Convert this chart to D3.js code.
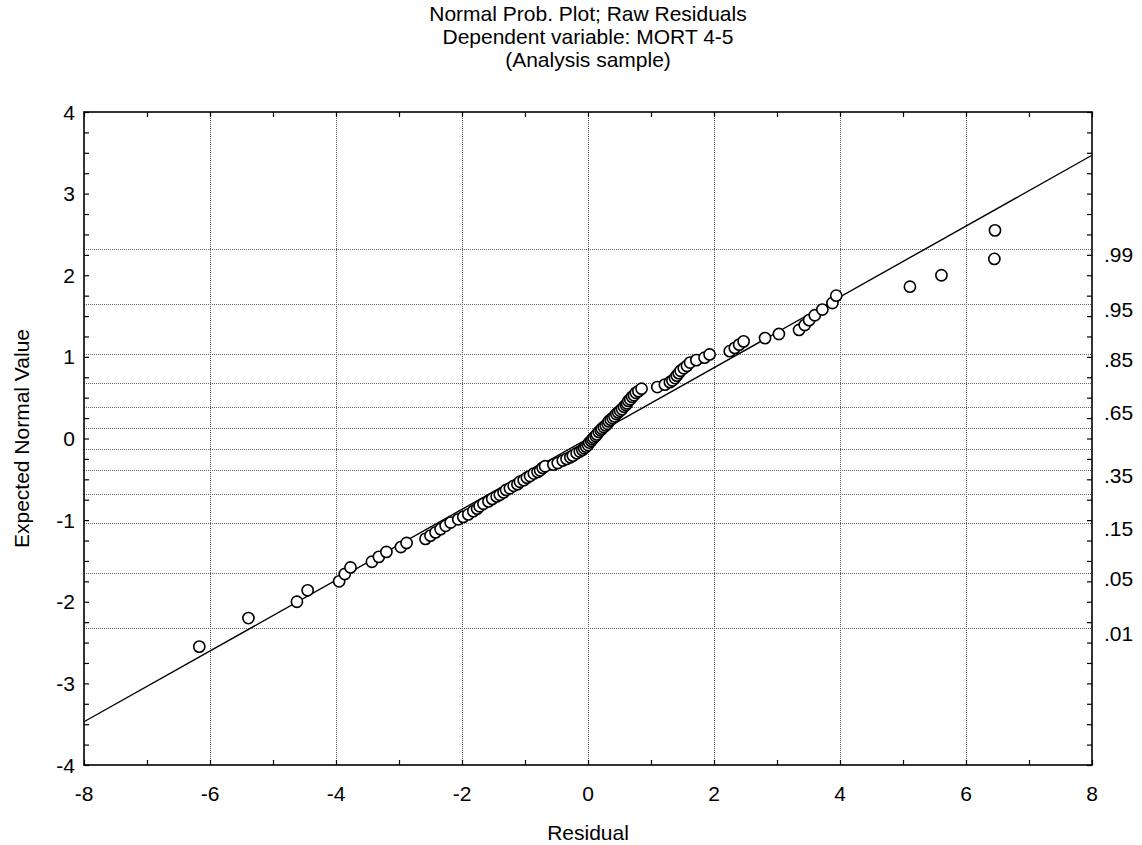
<!DOCTYPE html>
<html>
<head>
<meta charset="utf-8">
<script src="https://cdn.jsdelivr.net/npm/d3@7"></script>
<style>
  body { margin: 0; background: #fff; }
  svg text { font-family: "Liberation Sans", Arial, sans-serif; fill: #000; }
</style>
</head>
<body>
<div id="chart"></div>
<script>
// residuals (sorted)
const residuals = [
  -6.17, -5.39, -4.62, -4.45, -3.95, -3.86, -3.77, -3.43, -3.32, -3.20,
  -2.97, -2.88, -2.58, -2.50, -2.42, -2.34, -2.26, -2.18, -2.06, -1.98,
  -1.90, -1.82, -1.76, -1.72, -1.66, -1.58, -1.52, -1.45, -1.40, -1.34,
  -1.30, -1.24, -1.18, -1.12, -1.08, -1.02, -0.97, -0.92, -0.86, -0.80,
  -0.76, -0.72, -0.68, -0.55, -0.48, -0.40, -0.34, -0.28, -0.24, -0.18,
  -0.13, -0.09, -0.06, -0.03, 0.00, 0.02, 0.05, 0.07, 0.09, 0.12,
  0.14, 0.17, 0.20, 0.22, 0.25, 0.28, 0.31, 0.33, 0.36, 0.39,
  0.42, 0.45, 0.48, 0.51, 0.54, 0.57, 0.60, 0.62, 0.64, 0.67,
  0.70, 0.73, 0.76, 0.80, 0.85, 1.10, 1.22, 1.30, 1.34, 1.38,
  1.41, 1.44, 1.47, 1.52, 1.57, 1.62, 1.72, 1.85, 1.93, 2.25,
  2.33, 2.40, 2.47, 2.81, 3.03, 3.35, 3.44, 3.51, 3.60, 3.72,
  3.88, 3.94, 5.11, 5.61, 6.45, 6.46
];

// expected normal values, same order
const expectedNormal = [
  -2.55, -2.20, -2.00, -1.86, -1.75, -1.66, -1.58, -1.51, -1.45, -1.39,
  -1.33, -1.28, -1.23, -1.19, -1.15, -1.11, -1.07, -1.03, -0.99, -0.96,
  -0.93, -0.89, -0.86, -0.83, -0.80, -0.77, -0.74, -0.71, -0.69, -0.66,
  -0.63, -0.61, -0.58, -0.56, -0.53, -0.51, -0.48, -0.46, -0.43, -0.41,
  -0.39, -0.36, -0.34, -0.32, -0.30, -0.27, -0.25, -0.23, -0.21, -0.18,
  -0.16, -0.14, -0.12, -0.10, -0.08, -0.05, -0.03, -0.01, 0.01, 0.03,
  0.05, 0.08, 0.10, 0.12, 0.14, 0.16, 0.18, 0.21, 0.23, 0.25,
  0.27, 0.30, 0.32, 0.34, 0.36, 0.39, 0.41, 0.43, 0.46, 0.48,
  0.51, 0.53, 0.56, 0.58, 0.61, 0.63, 0.66, 0.69, 0.71, 0.74,
  0.77, 0.80, 0.83, 0.86, 0.89, 0.93, 0.96, 0.99, 1.03, 1.07,
  1.11, 1.15, 1.19, 1.23, 1.28, 1.33, 1.39, 1.45, 1.51, 1.58,
  1.66, 1.75, 1.86, 2.00, 2.20, 2.55
];

// reference line endpoints
const lineX = [-8, 8];
const lineY = [-3.47, 3.47];

// probability grid (z values) and the labelled ones
const probLevels = [".01", ".05", ".15", ".25", ".35", ".45", ".55", ".65", ".75", ".85", ".95", ".99"];
const probZ = [-2.326, -1.645, -1.036, -0.674, -0.385, -0.126, 0.126, 0.385, 0.674, 1.036, 1.645, 2.326];
const probLabelled = [".01", ".05", ".15", ".35", ".65", ".85", ".95", ".99"];

const xTicks = [-8, -6, -4, -2, 0, 2, 4, 6, 8];
const yTicks = [-4, -3, -2, -1, 0, 1, 2, 3, 4];

const titleLines = ["Normal Prob. Plot; Raw Residuals", "Dependent variable: MORT 4-5", "(Analysis sample)"];

const width = 1142, height = 845;
const margin = {top: 112, right: 50, bottom: 80, left: 84};

const svg = d3.select("#chart").append("svg")
    .attr("width", width)
    .attr("height", height);

const x = d3.scaleLinear().domain([-8, 8]).range([margin.left, width - margin.right]);
const y = d3.scaleLinear().domain([-4, 4]).range([height - margin.bottom, margin.top]);

// grid: vertical at labelled x ticks (inside)
svg.append("g")
    .selectAll("line")
    .data(xTicks.slice(1, -1))
    .join("line")
    .attr("x1", d => Math.round(x(d)) + 0.5).attr("x2", d => Math.round(x(d)) + 0.5)
    .attr("y1", y(4)).attr("y2", y(-4))
    .attr("stroke", "#555")
    .attr("stroke-width", 1)
    .attr("stroke-dasharray", "1,1");

// grid: horizontal at probability levels
svg.append("g")
    .selectAll("line")
    .data(probZ)
    .join("line")
    .attr("x1", x(-8)).attr("x2", x(8))
    .attr("y1", d => Math.round(y(d)) + 0.5).attr("y2", d => Math.round(y(d)) + 0.5)
    .attr("stroke", "#666")
    .attr("stroke-width", 1)
    .attr("stroke-dasharray", "1,1");

// axes with inward ticks
const fontSize = "21px";
const xAxisBottom = d3.axisBottom(x).tickValues(d3.range(-8, 9, 1)).tickSize(-5).tickFormat("");
const xAxisTop = d3.axisTop(x).tickValues(d3.range(-8, 9, 1)).tickSize(-5).tickFormat("");
const yAxisLeft = d3.axisLeft(y).tickValues(d3.range(-4, 4.01, 0.25)).tickSize(-5).tickFormat("");
const yAxisRight = d3.axisRight(y).tickValues(d3.range(-4, 4.01, 0.25)).tickSize(-5).tickFormat("");

svg.append("g").attr("transform", `translate(0,${y(-4)})`).call(xAxisBottom);
svg.append("g").attr("transform", `translate(0,${y(4)})`).call(xAxisTop);
svg.append("g").attr("transform", `translate(${x(-8)},0)`).call(yAxisLeft);
svg.append("g").attr("transform", `translate(${x(8)},0)`).call(yAxisRight);
svg.selectAll(".domain").remove();
svg.selectAll(".tick line").attr("stroke", "#000").attr("stroke-width", 1.2);

// frame
svg.append("rect")
    .attr("x", x(-8)).attr("y", y(4))
    .attr("width", x(8) - x(-8)).attr("height", y(-4) - y(4))
    .attr("fill", "none")
    .attr("stroke", "#000")
    .attr("stroke-width", 1.6);

// tick labels
svg.append("g")
    .selectAll("text")
    .data(xTicks)
    .join("text")
    .attr("x", d => x(d))
    .attr("y", y(-4) + 36)
    .attr("text-anchor", "middle")
    .attr("font-size", fontSize)
    .text(d => d);

svg.append("g")
    .selectAll("text")
    .data(yTicks)
    .join("text")
    .attr("x", x(-8) - 9)
    .attr("y", d => y(d) + 7.5)
    .attr("text-anchor", "end")
    .attr("font-size", fontSize)
    .text(d => d);

svg.append("g")
    .selectAll("text")
    .data(probLabelled)
    .join("text")
    .attr("x", x(8) + 12)
    .attr("y", d => y(probZ[probLevels.indexOf(d)]) + 13)
    .attr("font-size", fontSize)
    .text(d => d);

// reference line
svg.append("line")
    .attr("x1", x(lineX[0])).attr("y1", y(lineY[0]))
    .attr("x2", x(lineX[1])).attr("y2", y(lineY[1]))
    .attr("stroke", "#000")
    .attr("stroke-width", 1.4);

// points
svg.append("g")
    .selectAll("circle")
    .data(residuals.map((r, i) => ({r, z: expectedNormal[i]})))
    .join("circle")
    .attr("cx", d => x(d.r))
    .attr("cy", d => y(d.z))
    .attr("r", 5.6)
    .attr("fill", "#fff")
    .attr("stroke", "#000")
    .attr("stroke-width", 1.6);

// titles
svg.append("g")
    .selectAll("text")
    .data(titleLines)
    .join("text")
    .attr("x", (x(-8) + x(8)) / 2)
    .attr("y", (d, i) => 21 + i * 23)
    .attr("text-anchor", "middle")
    .attr("font-size", fontSize)
    .text(d => d);

svg.append("text")
    .attr("x", (x(-8) + x(8)) / 2)
    .attr("y", 840)
    .attr("text-anchor", "middle")
    .attr("font-size", fontSize)
    .text("Residual");

svg.append("text")
    .attr("transform", `translate(29,${(y(4) + y(-4)) / 2}) rotate(-90)`)
    .attr("text-anchor", "middle")
    .attr("font-size", fontSize)
    .text("Expected Normal Value");
</script>
</body>
</html>
